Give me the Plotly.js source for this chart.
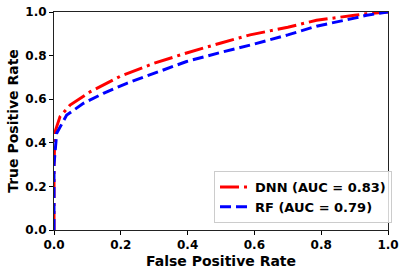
<!DOCTYPE html>
<html>
<head>
<meta charset="utf-8">
<script src="https://cdn.plot.ly/plotly-3.0.1.min.js"></script>
<style>html,body{margin:0;padding:0;background:#fff;}#chart{width:406px;height:274px;}</style>
</head>
<body>
<div id="chart"></div>
<script>
const dnnFpr = [0, 0, 0.003, 0.018, 0.048, 0.108, 0.177, 0.198, 0.3, 0.397, 0.5, 0.587, 0.7, 0.786, 0.9, 0.936, 1];
const dnnTpr = [0, 0.3, 0.45, 0.52, 0.573, 0.634, 0.688, 0.705, 0.765, 0.812, 0.858, 0.895, 0.93, 0.962, 0.985, 0.992, 1];
const rfFpr = [0, 0, 0.008, 0.038, 0.088, 0.148, 0.218, 0.3, 0.397, 0.5, 0.597, 0.7, 0.786, 0.9, 0.936, 1];
const rfTpr = [0, 0.3, 0.444, 0.527, 0.581, 0.627, 0.673, 0.72, 0.773, 0.815, 0.852, 0.895, 0.935, 0.972, 0.985, 1];
const seriesNames = ['DNN (AUC = 0.83)', 'RF (AUC = 0.79)'];
const tickVals = [0, 0.2, 0.4, 0.6, 0.8, 1.0];
const tickText = ['0.0', '0.2', '0.4', '0.6', '0.8', '1.0'];

const font = {family: 'DejaVu Sans', color: '#000', weight: 'bold'};
const traces = [
  {x: dnnFpr, y: dnnTpr, mode: 'lines', name: seriesNames[0],
   line: {color: '#ff0000', width: 3, dash: '19px,5px,3px,5px'}},
  {x: rfFpr, y: rfTpr, mode: 'lines', name: seriesNames[1],
   line: {color: '#0000ff', width: 3, dash: '11px,5px'}}
];
const axisCommon = {
  range: [0, 1], tickvals: tickVals, ticktext: tickText, ticks: 'outside', ticklen: 4,
  tickwidth: 1, tickcolor: '#000', showline: true, linecolor: '#222', linewidth: 1,
  mirror: true, showgrid: false, zeroline: false,
  tickfont: Object.assign({}, font, {size: 12})
};
const layout = {
  width: 406, height: 274,
  margin: {l: 54, r: 18, t: 12, b: 44},
  paper_bgcolor: '#fff', plot_bgcolor: '#fff',
  showlegend: true,
  legend: {x: 1.012, y: 0.032, xanchor: 'right', yanchor: 'bottom',
    bordercolor: '#cccccc', borderwidth: 1, bgcolor: 'rgba(255,255,255,0.8)',
    font: Object.assign({}, font, {size: 13}), tracegroupgap: 0, itemwidth: 30},
  xaxis: Object.assign({}, axisCommon, {title: {text: 'False Positive Rate', font: Object.assign({}, font, {size: 14}), standoff: 4}}),
  yaxis: Object.assign({}, axisCommon, {title: {text: 'True Positive Rate', font: Object.assign({}, font, {size: 14}), standoff: 3}})
};
Plotly.newPlot('chart', traces, layout, {displayModeBar: false, staticPlot: true});
</script>
</body>
</html>
